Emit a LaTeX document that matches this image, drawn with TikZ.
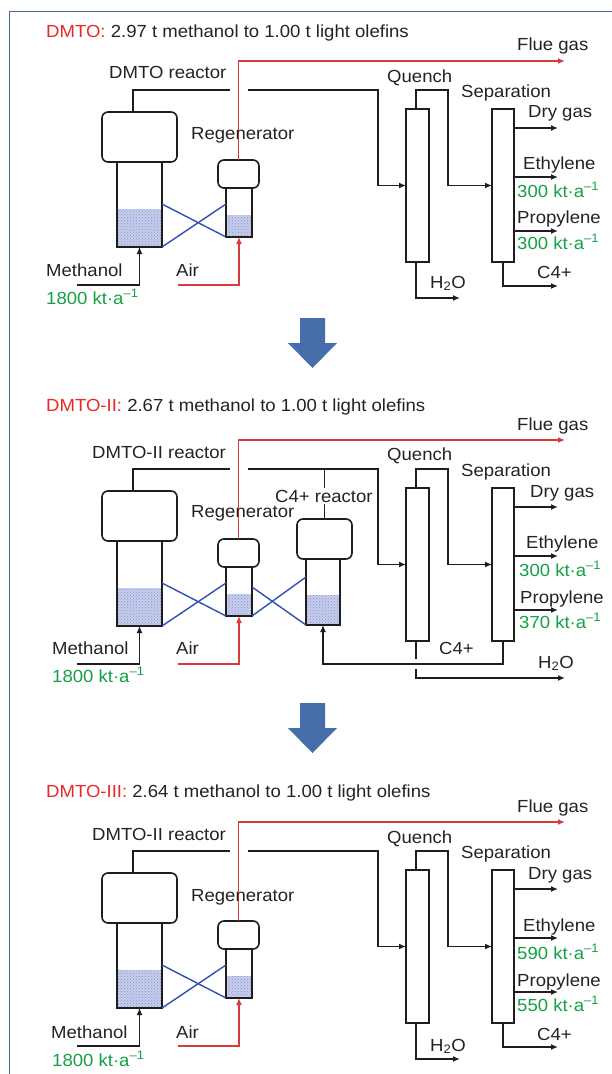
\documentclass[tikz,border=0pt]{standalone}
\usepackage{fontspec}
\setmainfont{Liberation Sans}[FakeStretch=1.06]
\usetikzlibrary{arrows.meta,patterns}
\definecolor{txt}{RGB}{35,35,35}
\definecolor{ttl}{RGB}{232,40,40}
\definecolor{grn}{RGB}{20,160,70}
\definecolor{redl}{RGB}{215,60,60}
\definecolor{bluel}{RGB}{50,80,180}
\definecolor{bed}{RGB}{200,205,236}
\definecolor{bigarr}{RGB}{70,110,170}
\definecolor{framec}{RGB}{70,100,160}
\definecolor{pipec}{RGB}{30,30,30}
\tikzset{
 lbl/.style={anchor=base west, inner sep=0pt, text=txt, font=\fontsize{17.5pt}{20pt}\selectfont},
 glbl/.style={lbl, text=grn},
 vessel/.style={draw=pipec, line width=1.6pt, inner sep=0pt, outer sep=0pt, anchor=north west},
 headbox/.style={vessel, rounded corners=6pt},
 pipe/.style={draw=pipec, line width=1.4pt},
 pipearr/.style={pipe, -{Latex[length=7pt,width=6pt]}},
 redpipe/.style={draw=redl, line width=1.4pt},
 redarr/.style={redpipe, -{Latex[length=7pt,width=6pt]}},
 cross/.style={draw=bluel, line width=1.4pt},
 bedfill/.style={fill=bed},
 beddots/.style={pattern=crosshatch dots, pattern color=bluel!60},
}
\newcommand\plantcore[1]{%
 % reactor
 \fill[bedfill] (117,209) rectangle (162,247);
 \fill[beddots] (117,209) rectangle (162,247);
 \node[headbox, minimum width=75pt, minimum height=50pt] (#1rt) at (102,112) {};
 \node[vessel, minimum width=45pt, minimum height=85pt] (#1rb) at (117,162) {};
 % regenerator
 \fill[bedfill] (226,215) rectangle (252,237);
 \fill[beddots] (226,215) rectangle (252,237);
 \node[headbox, minimum width=41pt, minimum height=28pt] (#1gt) at (218,160) {};
 \node[vessel, minimum width=26pt, minimum height=49pt] (#1gb) at (226,188) {};
 % catalyst circulation
 \coordinate (#1xa) at (162,204);
 \coordinate (#1xb) at (226,204);
 \draw[cross] (#1xa) -- (#1gb.south west);
 \draw[cross] (#1rb.south east) -- (#1xb);
 % flue gas
 \coordinate (#1flue) at (565,61);
 \draw[redarr] (#1gt.north) |- (#1flue);
 % product gas
 \coordinate (#1rtop) at (133,112);
 \coordinate (#1gapL) at (230,90);
 \coordinate (#1gapR) at (248,90);
 \coordinate (#1bendA) at (378,90);
 \draw[pipe] (#1rtop) |- (#1gapL);
 \node[vessel, minimum width=23pt, minimum height=153pt] (#1q) at (406,109) {};
 \node[vessel, minimum width=22pt, minimum height=153pt] (#1s) at (492,109) {};
 \draw[pipearr] (#1gapR) -- (#1bendA) |- (#1q.west);
 \coordinate (#1qtop) at (416,109);
 \coordinate (#1bendB) at (448,90);
 \draw[pipearr] (#1qtop) |- (#1bendB) |- (#1s.west);
 % products
 \coordinate (#1dg) at (558,128);
 \coordinate (#1eth) at (558,177);
 \coordinate (#1pro) at (558,231);
 \draw[pipearr] (#1s.east |- #1dg) -- (#1dg);
 \draw[pipearr] (#1s.east |- #1eth) -- (#1eth);
 \draw[pipearr] (#1s.east |- #1pro) -- (#1pro);
 % feeds
 \coordinate (#1meth) at (77,285);
 \draw[pipearr] (#1meth) -| (#1rb.south);
 \coordinate (#1air) at (178,285);
 \draw[redarr] (#1air) -| (#1gb.south);
}
\newcommand\simpleout[1]{%
 \coordinate (#1sbot) at (503,262);
 \coordinate (#1c4) at (558,286);
 \draw[pipearr] (#1sbot) |- (#1c4);
 \coordinate (#1qbot) at (416,262);
 \coordinate (#1h2o) at (460,298);
 \draw[pipearr] (#1qbot) |- (#1h2o);
}
\begin{document}
\begin{tikzpicture}[x=1pt,y=-1pt]
\useasboundingbox (0,0) rectangle (612,1074);
\fill[white] (0,0) rectangle (612,1074);
\draw[framec, line width=1pt] (9.5,1074) -- (9.5,11) -- (612,11);

% ---------- panel 1 ----------
\begin{scope}
 \plantcore{pa}
 \simpleout{pa}
 \node[lbl] (pat) at (46,37) {\textcolor{ttl}{DMTO:} 2.97 t methanol to 1.00 t light olefins};
 \node[lbl] (pafl) at (517,50) {Flue gas};
 \node[lbl] (parl) at (109,78) {DMTO reactor};
 \node[lbl] (paql) at (387,82) {Quench};
 \node[lbl] (pasl) at (461,97) {Separation};
 \node[lbl] (padl) at (528,117) {Dry gas};
 \node[lbl] (pagl) at (191,139) {Regenerator};
 \node[lbl] (pael) at (523,169) {Ethylene};
 \node[glbl] (paev) at (517,197) {300 kt·a\textsuperscript{–1}};
 \node[lbl] (papl) at (517,223) {Propylene};
 \node[glbl] (papv) at (517,249) {300 kt·a\textsuperscript{–1}};
 \node[lbl] (pacl) at (537,278) {C4+};
 \node[lbl] (paml) at (46,276) {Methanol};
 \node[lbl] (paal) at (176,276) {Air};
 \node[lbl] (pahl) at (430,288) {H\textsubscript{2}O};
 \node[glbl] (pamv) at (46,304) {1800 kt·a\textsuperscript{–1}};
\end{scope}

\fill[bigarr] (300,318) -- (325,318) -- (325,343) -- (337,343) -- (312.5,368) -- (288,343) -- (300,343) -- cycle;

% ---------- panel 2 ----------
\begin{scope}[shift={(0,379)}]
 \plantcore{pb}
 % C4+ reactor
 \fill[bedfill] (306,216) rectangle (340,246);
 \fill[beddots] (306,216) rectangle (340,246);
 \node[headbox, minimum width=55pt, minimum height=40pt] (pbct) at (297,140) {};
 \node[vessel, minimum width=34pt, minimum height=66pt] (pbcb) at (306,180) {};
 \draw[pipe] (pbct.north |- pbgapR) -- (pbct.north);
 \coordinate (pbxc) at (252,208);
 \coordinate (pbxd) at (306,198);
 \draw[cross] (pbxc) -- (pbcb.south west);
 \draw[cross] (pbgb.south east) -- (pbxd);
 % C4+ recycle
 \coordinate (pbsbot) at (503,262);
 \coordinate (pbc4turn) at (323,285);
 \draw[pipearr] (pbsbot) |- (pbc4turn) -- (pbcb.south);
 % water
 \coordinate (pbqbot) at (416,262);
 \coordinate (pbhg1) at (416,280);
 \coordinate (pbhg2) at (416,290);
 \coordinate (pbh2o) at (565,299);
 \draw[pipe] (pbqbot) -- (pbhg1);
 \draw[pipearr] (pbhg2) |- (pbh2o);
 \node[lbl] (pbt) at (46,32) {\textcolor{ttl}{DMTO-II:} 2.67 t methanol to 1.00 t light olefins};
 \node[lbl] (pbfl) at (517,51) {Flue gas};
 \node[lbl] (pbrl) at (92,79) {DMTO-II reactor};
 \node[lbl] (pbql) at (387,81) {Quench};
 \node[lbl] (pbsl) at (461,97) {Separation};
 \node[lbl] (pbdl) at (530,118) {Dry gas};
 \node[lbl, fill=white, inner sep=2pt] (pbcl) at (273,123) {C4+ reactor};
 \node[lbl] (pbgl) at (191,138) {Regenerator};
 \node[lbl] (pbel) at (526,169) {Ethylene};
 \node[glbl] (pbev) at (519,197) {300 kt·a\textsuperscript{–1}};
 \node[lbl] (pbpl) at (520,224) {Propylene};
 \node[glbl] (pbpv) at (519,249) {370 kt·a\textsuperscript{–1}};
 \node[lbl] (pbcl2) at (439,275) {C4+};
 \node[lbl] (pbml) at (52,275) {Methanol};
 \node[lbl] (pbal) at (176,275) {Air};
 \node[lbl] (pbhl) at (538,289) {H\textsubscript{2}O};
 \node[glbl] (pbmv) at (52,303) {1800 kt·a\textsuperscript{–1}};
\end{scope}

\fill[bigarr] (300,703) -- (325,703) -- (325,728) -- (337,728) -- (312.5,753) -- (288,728) -- (300,728) -- cycle;

% ---------- panel 3 ----------
\begin{scope}[shift={(0,761)}]
 \plantcore{pc}
 \simpleout{pc}
 \node[lbl] (pct) at (46,36) {\textcolor{ttl}{DMTO-III:} 2.64 t methanol to 1.00 t light olefins};
 \node[lbl] (pcfl) at (517,51) {Flue gas};
 \node[lbl] (pcrl) at (92,79) {DMTO-II reactor};
 \node[lbl] (pcql) at (387,82) {Quench};
 \node[lbl] (pcsl) at (461,97) {Separation};
 \node[lbl] (pcdl) at (528,118) {Dry gas};
 \node[lbl] (pcgl) at (191,140) {Regenerator};
 \node[lbl] (pcel) at (523,170) {Ethylene};
 \node[glbl] (pcev) at (517,198) {590 kt·a\textsuperscript{–1}};
 \node[lbl] (pcpl) at (517,225) {Propylene};
 \node[glbl] (pcpv) at (517,250) {550 kt·a\textsuperscript{–1}};
 \node[lbl] (pccl) at (537,279) {C4+};
 \node[lbl] (pcml) at (51,277) {Methanol};
 \node[lbl] (pcal) at (176,277) {Air};
 \node[lbl] (pchl) at (430,290) {H\textsubscript{2}O};
 \node[glbl] (pcmv) at (52,305) {1800 kt·a\textsuperscript{–1}};
\end{scope}
\end{tikzpicture}
\end{document}
